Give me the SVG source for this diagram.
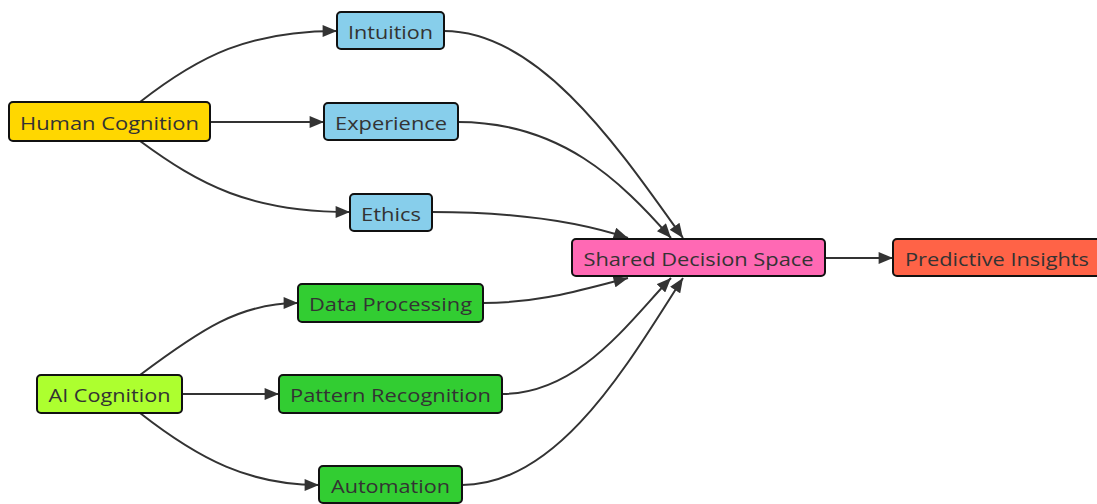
<svg xmlns="http://www.w3.org/2000/svg" width="1097" height="504" viewBox="0 0 1097 504">
<style>
.n rect{stroke:#111;stroke-width:2}
.n text{font-family:"Open Sans",sans-serif;font-size:18.5px;fill:#333;text-anchor:middle;dominant-baseline:central}
.e path{fill:none;stroke:#333;stroke-width:2;marker-end:url(#ah)}
</style>
<defs>
<marker id="ah" markerUnits="userSpaceOnUse" viewBox="0 0 12 10" refX="12" refY="5" markerWidth="15" markerHeight="12" orient="auto">
<path d="M0,0 L12,5 L0,10 z" fill="#333"/>
</marker>
</defs>
<rect width="1097" height="504" fill="#fff"/>
<g class="e" id="edges">
<path d="M140,102 C200,55 250,31 337,31"/>
<path d="M210,122 L324,122"/>
<path d="M140,141 C200,185 250,212 350,212"/>
<path d="M140,375 C200,330 240,303 298,303"/>
<path d="M182,394 L279,394"/>
<path d="M140,413 C200,460 250,485 319,485"/>
<path d="M444,31 C540,31 620,150 683,238"/>
<path d="M458,122 C560,122 620,180 671,238"/>
<path d="M432,212 C520,212 580,222 628,238"/>
<path d="M483,303 C540,303 580,290 628,278"/>
<path d="M502,394 C580,394 630,320 671,278"/>
<path d="M462,485 C560,485 630,360 683,278"/>
<path d="M825,258 L893,258"/>
</g>
<g class="n" id="human"><rect x="9" y="102" width="201" height="39" rx="4" fill="#FFD700"/><text x="109.5" y="122" textLength="179" lengthAdjust="spacingAndGlyphs">Human Cognition</text></g>
<g class="n" id="intuition"><rect x="337" y="12" width="107" height="37" rx="4" fill="#87CEEB"/><text x="390.5" y="31" textLength="85" lengthAdjust="spacingAndGlyphs">Intuition</text></g>
<g class="n" id="experience"><rect x="324" y="103" width="134" height="37" rx="4" fill="#87CEEB"/><text x="391" y="122" textLength="112" lengthAdjust="spacingAndGlyphs">Experience</text></g>
<g class="n" id="ethics"><rect x="350" y="194" width="82" height="37" rx="4" fill="#87CEEB"/><text x="391" y="213" textLength="60" lengthAdjust="spacingAndGlyphs">Ethics</text></g>
<g class="n" id="shared"><rect x="572" y="239" width="253" height="37" rx="4" fill="#FF69B4"/><text x="698.5" y="258" textLength="230" lengthAdjust="spacingAndGlyphs">Shared Decision Space</text></g>
<g class="n" id="predictive"><rect x="893" y="239" width="210" height="37" rx="4" fill="#FF6347"/><text x="997" y="258" textLength="184" lengthAdjust="spacingAndGlyphs">Predictive Insights</text></g>
<g class="n" id="dataproc"><rect x="298" y="284" width="185" height="38" rx="4" fill="#32CD32"/><text x="390.5" y="303" textLength="163" lengthAdjust="spacingAndGlyphs">Data Processing</text></g>
<g class="n" id="ai"><rect x="37" y="375" width="145" height="38" rx="4" fill="#ADFF2F"/><text x="109.5" y="394" textLength="122" lengthAdjust="spacingAndGlyphs">AI Cognition</text></g>
<g class="n" id="pattern"><rect x="279" y="375" width="223" height="38" rx="4" fill="#32CD32"/><text x="390.5" y="394" textLength="201" lengthAdjust="spacingAndGlyphs">Pattern Recognition</text></g>
<g class="n" id="automation"><rect x="319" y="466" width="143" height="37" rx="4" fill="#32CD32"/><text x="390.5" y="485" textLength="119" lengthAdjust="spacingAndGlyphs">Automation</text></g>
</svg>
